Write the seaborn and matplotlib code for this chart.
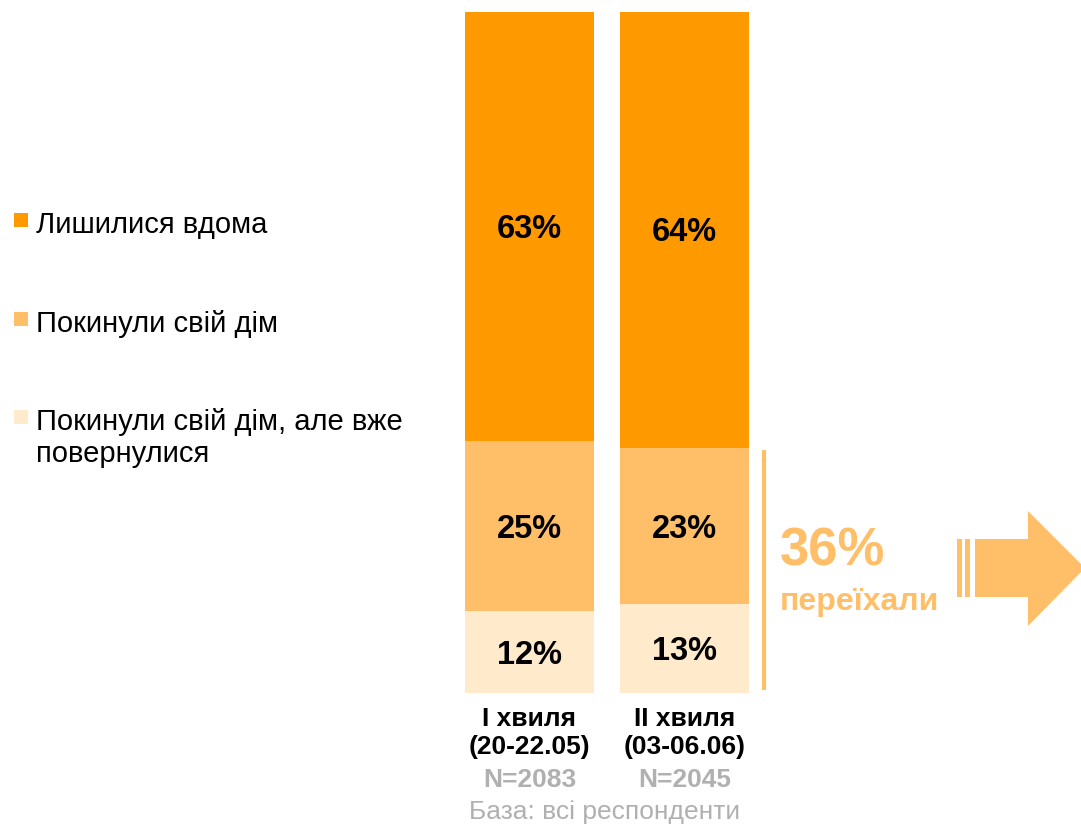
import numpy as np
import pandas as pd
import seaborn as sns
import matplotlib.pyplot as plt
from matplotlib.patches import Polygon, Rectangle
import matplotlib.transforms as mtransforms

# дані
waves = ["І хвиля\n(20-22.05)", "ІІ хвиля\n(03-06.06)"]
sample_n = [2083, 2045]
stayed = [63, 64]
left_home = [25, 23]
returned = [12, 13]
moved_total = "36%"
legend_labels = ["Лишилися вдома", "Покинули свій дім", "Покинули свій дім, але вже\nповернулися"]

c_dark = "#FF9900"
c_mid = "#FFBF69"
c_light = "#FFEACB"

df = pd.DataFrame({"wave": waves, "stayed": stayed, "left": left_home, "returned": returned})
df["top"] = df["stayed"] + df["left"] + df["returned"]
df["mid"] = df["left"] + df["returned"]

sns.set_theme(style="white")
plt.rcParams["font.family"] = ["Liberation Sans", "DejaVu Sans"]

W, H = 1081, 826
fig = plt.figure(figsize=(W / 100, H / 100), dpi=100)

# накладка для декоративних елементів (в пікселях)
over = fig.add_axes([0, 0, 1, 1])
over.set_xlim(0, W)
over.set_ylim(H, 0)
over.axis("off")

# осі для стовпчиків
ax = fig.add_axes([452 / W, (H - 693) / H, 310 / W, 681 / H])
for col_name, col in [("top", c_dark), ("mid", c_mid), ("returned", c_light)]:
    sns.barplot(data=df, x="wave", y=col_name, color=col, saturation=1, width=0.83,
                linewidth=0, ax=ax)
ax.set_xlim(-0.5, 1.5)
ax.set_ylim(0, 100)
ax.set_yticks([])
ax.set_xlabel("")
ax.set_ylabel("")
sns.despine(ax=ax, left=True, bottom=True)
ax.tick_params(axis="x", length=0, pad=10)
ax.set_xticks(range(len(waves)))
ax.set_xticklabels(waves, fontsize=19, fontweight="bold", color="black", linespacing=1.2)

lab_tr = mtransforms.offset_copy(ax.transData, fig=fig, y=-3, units="dots")
for i, row in df.iterrows():
    for yv, val in [(row["mid"] + row["stayed"] / 2, row["stayed"]),
                    (row["returned"] + row["left"] / 2, row["left"]),
                    (row["returned"] / 2, row["returned"])]:
        ax.text(i, yv, f"{val}%", ha="center", va="center", transform=lab_tr,
                fontsize=23.5, fontweight="bold", color="black")
    ax.text(i, -12.8, f"N={sample_n[i]}", ha="center", va="center",
            fontsize=19, fontweight="bold", color="#B0B0B0")

over.text(605, 812, "База: всі респонденти", ha="center", va="center", fontsize=19, color="#B0B0B0")

# легенда
leg_colors = [c_dark, c_mid, c_light]
leg_y = [220, 319, 417]
for col, y, lab in zip(leg_colors, leg_y, legend_labels):
    over.add_patch(Rectangle((14, y - 7), 14, 14, color=col, lw=0))
    over.text(36, y - 9, lab, ha="left", va="top", fontsize=21, color="black", linespacing=1.2)

# дужка та підсумок
over.plot([764, 764], [450, 690], color=c_mid, lw=3, solid_capstyle="butt")
over.text(780, 552, moved_total, ha="left", va="center", fontsize=38, fontweight="bold", color=c_mid)
over.text(780, 602, "переїхали", ha="left", va="center", fontsize=23, fontweight="bold", color=c_mid)

# стрілка
over.add_patch(Rectangle((957, 539), 5, 58, color=c_mid, lw=0))
over.add_patch(Rectangle((965, 539), 5, 58, color=c_mid, lw=0))
over.add_patch(Polygon([(975, 539), (1028, 539), (1028, 511), (1085, 568), (1028, 626),
                        (1028, 597), (975, 597)], closed=True, color=c_mid, lw=0))

fig.savefig("out.png", dpi=100)
